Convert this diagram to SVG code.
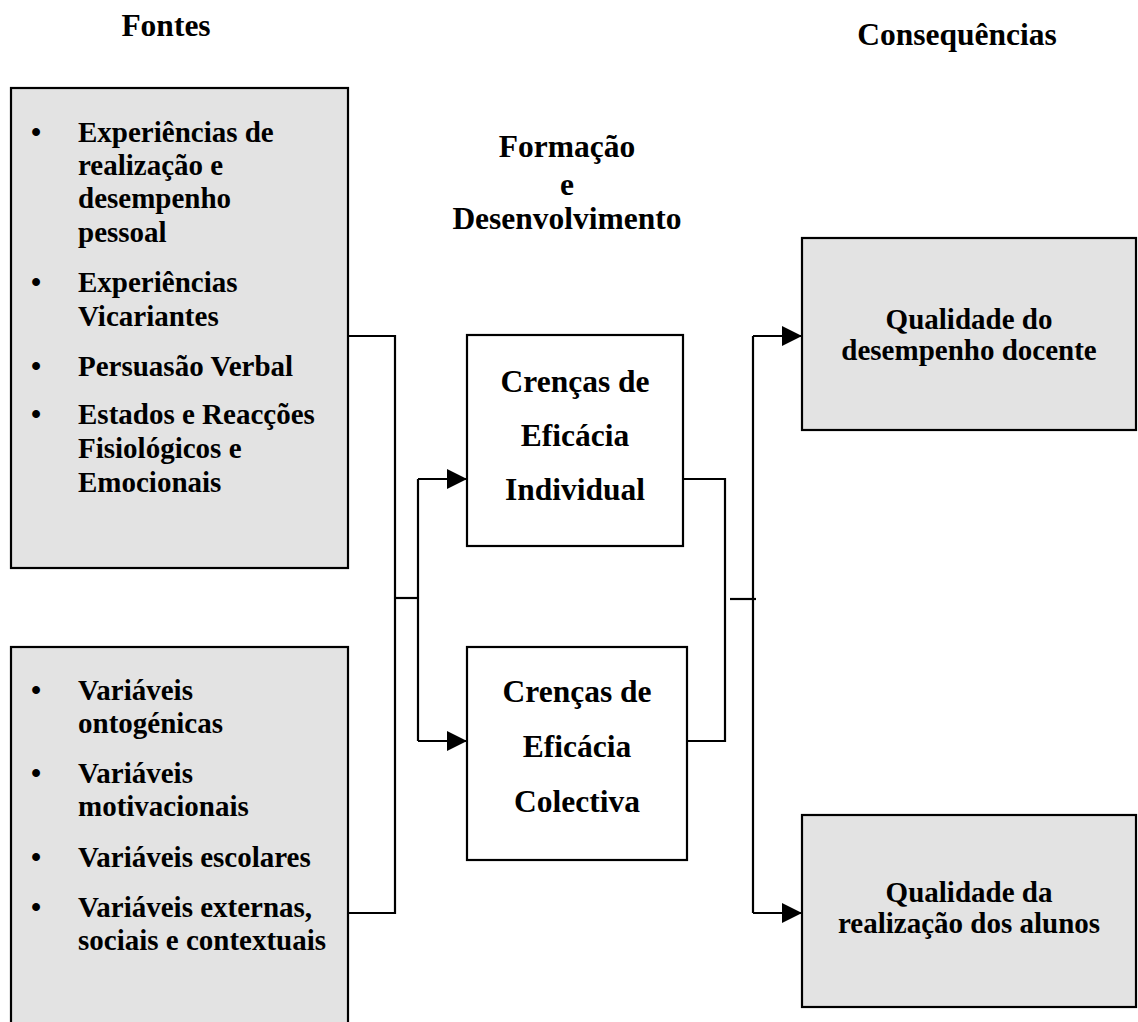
<svg xmlns="http://www.w3.org/2000/svg" width="1138" height="1022" viewBox="0 0 1138 1022">
  <style>
    .t { font-family: "Liberation Serif", "Times New Roman", serif; font-weight: bold; fill: #000; }
    .title { font-size: 31.5px; text-anchor: middle; }
    .item { font-size: 29px; }
    .mid { font-size: 31.5px; text-anchor: middle; }
    .cons { font-size: 29px; text-anchor: middle; }
    .gray { fill: #e3e3e3; stroke: #000; stroke-width: 2.2; }
    .white { fill: #fff; stroke: #000; stroke-width: 2.2; }
    .conn { fill: none; stroke: #000; stroke-width: 2.2; }
  </style>
  <defs>
    <marker id="arrow" viewBox="0 0 20 20" refX="20" refY="10" markerWidth="20" markerHeight="20" markerUnits="userSpaceOnUse" orient="auto">
      <path d="M0,0 L20,10 L0,20 Z" fill="#000"/>
    </marker>
  </defs>

  <rect width="1138" height="1022" fill="#fff"/>

  <g id="titles">
    <text class="t title" x="166" y="36">Fontes</text>
    <text class="t title" x="957" y="45">Consequências</text>
    <text class="t title" x="567" y="157">Formação</text>
    <text class="t title" x="567" y="195">e</text>
    <text class="t title" x="567" y="229">Desenvolvimento</text>
  </g>

  <g id="connectors">
    <path class="conn" d="M348,336 H395 V913 H348"/>
    <path class="conn" d="M395,598 H418"/>
    <path class="conn" d="M418,479 V741"/>
    <path class="conn" d="M418,479 H467" marker-end="url(#arrow)"/>
    <path class="conn" d="M418,741 H467" marker-end="url(#arrow)"/>
    <path class="conn" d="M683,479 H725 V741 H683"/>
    <path class="conn" d="M730,599 H756"/>
    <path class="conn" d="M753,336 V913"/>
    <path class="conn" d="M753,336 H802" marker-end="url(#arrow)"/>
    <path class="conn" d="M753,913 H802" marker-end="url(#arrow)"/>
  </g>

  <g id="fontes-pessoais">
    <rect class="gray" x="11" y="88" width="337" height="480"/>
    <text class="t item" x="31" y="142">•</text>
    <text class="t item" x="78" y="142">Experiências de</text>
    <text class="t item" x="78" y="175">realização e</text>
    <text class="t item" x="78" y="208">desempenho</text>
    <text class="t item" x="78" y="242">pessoal</text>
    <text class="t item" x="31" y="292">•</text>
    <text class="t item" x="78" y="292">Experiências</text>
    <text class="t item" x="78" y="326">Vicariantes</text>
    <text class="t item" x="31" y="376">•</text>
    <text class="t item" x="78" y="376">Persuasão Verbal</text>
    <text class="t item" x="31" y="424">•</text>
    <text class="t item" x="78" y="424">Estados e Reacções</text>
    <text class="t item" x="78" y="458">Fisiológicos e</text>
    <text class="t item" x="78" y="492">Emocionais</text>
  </g>

  <g id="fontes-variaveis">
    <rect class="gray" x="11" y="647" width="337" height="420"/>
    <text class="t item" x="31" y="700">•</text>
    <text class="t item" x="78" y="700">Variáveis</text>
    <text class="t item" x="78" y="733">ontogénicas</text>
    <text class="t item" x="31" y="783">•</text>
    <text class="t item" x="78" y="783">Variáveis</text>
    <text class="t item" x="78" y="816">motivacionais</text>
    <text class="t item" x="31" y="867">•</text>
    <text class="t item" x="78" y="867">Variáveis escolares</text>
    <text class="t item" x="31" y="917">•</text>
    <text class="t item" x="78" y="917">Variáveis externas,</text>
    <text class="t item" x="78" y="950">sociais e contextuais</text>
  </g>

  <g id="eficacia-individual">
    <rect class="white" x="467" y="335" width="216" height="211"/>
    <text class="t mid" x="575" y="392">Crenças de</text>
    <text class="t mid" x="575" y="446">Eficácia</text>
    <text class="t mid" x="575" y="500">Individual</text>
  </g>

  <g id="eficacia-colectiva">
    <rect class="white" x="467" y="647" width="220" height="213"/>
    <text class="t mid" x="577" y="702">Crenças de</text>
    <text class="t mid" x="577" y="757">Eficácia</text>
    <text class="t mid" x="577" y="812">Colectiva</text>
  </g>

  <g id="desempenho-docente">
    <rect class="gray" x="802" y="238" width="334" height="192"/>
    <text class="t cons" x="969" y="329">Qualidade do</text>
    <text class="t cons" x="969" y="360">desempenho docente</text>
  </g>

  <g id="realizacao-alunos">
    <rect class="gray" x="802" y="815" width="334" height="192"/>
    <text class="t cons" x="969" y="902">Qualidade da</text>
    <text class="t cons" x="969" y="933">realização dos alunos</text>
  </g>
</svg>
